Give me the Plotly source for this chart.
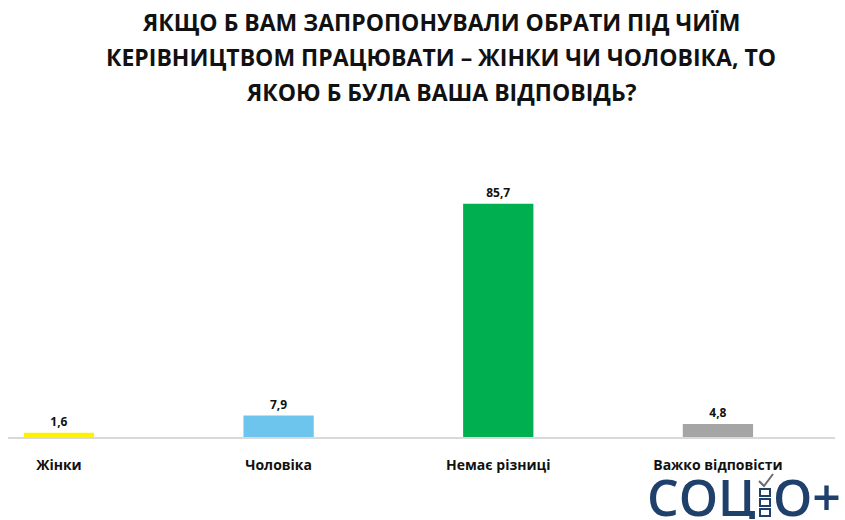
import plotly.graph_objects as go

categories = ["Жінки", "Чоловіка", "Немає різниці", "Важко відповісти"]
values = [1.6, 7.9, 85.7, 4.8]
value_labels = ["1,6", "7,9", "85,7", "4,8"]
colors = ["#FFF200", "#6DC5EE", "#00B050", "#A5A5A5"]

title_lines = [
    "ЯКЩО Б ВАМ ЗАПРОПОНУВАЛИ ОБРАТИ ПІД ЧИЇМ",
    "КЕРІВНИЦТВОМ ПРАЦЮВАТИ – ЖІНКИ ЧИ ЧОЛОВІКА, ТО",
    "ЯКОЮ Б БУЛА ВАША ВІДПОВІДЬ?",
]

font_family = "Open Sans, Arial"
logo_color = "#20406C"

# plot area in pixels
L, R, T, B = 8, 10, 150, 83
W, H = 845, 520
PW, PH = W - L - R, H - T - B


def px_x(px):
    return (px - L) / PW


def px_y(py):
    return (H - B - py) / PH


fig = go.Figure()
fig.add_trace(go.Bar(
    x=categories,
    y=values,
    marker=dict(color=colors, line=dict(width=0)),
    text=value_labels,
    textposition="outside",
    textfont=dict(family=font_family, size=12, color="#111111", weight="bold"),
    cliponaxis=False,
    hoverinfo="skip",
))

annotations = []
for i, line in enumerate(title_lines):
    annotations.append(dict(
        text=line,
        x=px_x(441), y=px_y(22 + 35 * i), xref="paper", yref="paper",
        xanchor="center", yanchor="middle",
        showarrow=False,
        font=dict(family=font_family, size=23, color="#111111", weight="bold"),
    ))

# logo wordmark, in boxes trimmed to the letter height
annotations.append(dict(
    text="СОЦ", x=px_x(758), y=px_y(497), xref="paper", yref="paper",
    xanchor="right", yanchor="middle", showarrow=False,
    height=44, valign="middle",
    font=dict(family=font_family, size=50, color=logo_color, weight=600),
))
annotations.append(dict(
    text="О+", x=px_x(771), y=px_y(497), xref="paper", yref="paper",
    xanchor="left", yanchor="middle", showarrow=False,
    height=44, valign="middle",
    font=dict(family=font_family, size=50, color=logo_color, weight=600),
))

shapes = []
for top in (489, 499, 509):
    shapes.append(dict(
        type="rect", xref="paper", yref="paper",
        x0=px_x(760), x1=px_x(770), y0=px_y(top), y1=px_y(top + 7),
        line=dict(color=logo_color, width=2), fillcolor="white",
    ))
shapes.append(dict(
    type="path", xref="paper", yref="paper",
    path="M {:.5f},{:.5f} L {:.5f},{:.5f} L {:.5f},{:.5f}".format(
        px_x(759), px_y(481), px_x(764), px_y(486), px_x(773), px_y(474)),
    line=dict(color="#6B6B6B", width=2),
))

fig.update_layout(
    width=W,
    height=H,
    margin=dict(l=L, r=R, t=T, b=B),
    paper_bgcolor="white",
    plot_bgcolor="white",
    bargap=0.68,
    showlegend=False,
    xaxis=dict(
        range=[-0.232, 3.533],
        showline=True,
        linecolor="#D9D9D9",
        linewidth=2,
        showgrid=False,
        ticks="",
        tickfont=dict(family=font_family, size=14, color="#111111", weight="bold"),
        ticklabelstandoff=14,
    ),
    yaxis=dict(
        range=[0, 105.5],
        visible=False,
    ),
    annotations=annotations,
    shapes=shapes,
)

fig.write_html("out.html")
